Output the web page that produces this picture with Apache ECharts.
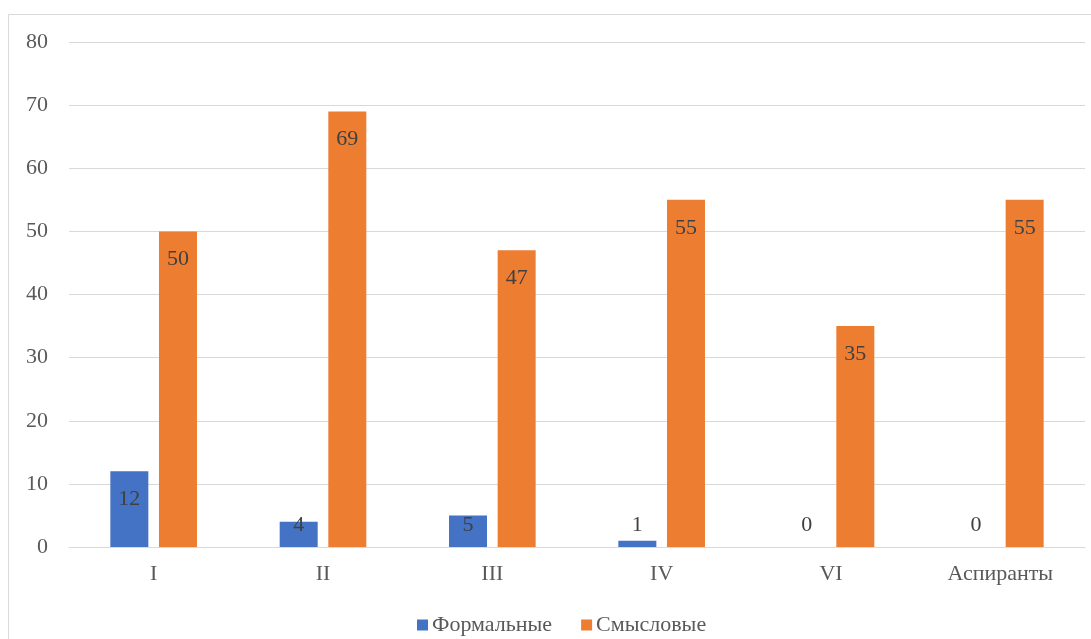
<!DOCTYPE html>
<html>
<head>
<meta charset="utf-8">
<script src="https://cdn.jsdelivr.net/npm/echarts@6/dist/echarts.min.js"></script>
<style>
  html, body { margin: 0; padding: 0; background: #fff; }
  #chart { width: 1091px; height: 639px; }
</style>
</head>
<body>
<div id="chart"></div>
<script>
// Categories (groups) and the two series
const categories = ['I', 'II', 'III', 'IV', 'VI', 'Аспиранты'];
const formalValues = [12, 4, 5, 1, 0, 0];
const semanticValues = [50, 69, 47, 55, 35, 55];
const seriesNames = ['Формальные', 'Смысловые'];
const yTicks = { min: 0, max: 80, interval: 10 };

const FONT = "'Liberation Serif', 'Times New Roman', serif";
const BLUE = '#4472C4';
const ORANGE = '#ED7D31';

// Labels sit inside the bar top; short bars get them just above the baseline
function withLabels(values) {
  return values.map(v => ({
    value: v,
    label: v < 8
      ? { position: 'insideBottom', distance: 11 }
      : { position: 'insideTop', distance: 17 }
  }));
}

const labelStyle = {
  show: true,
  color: '#404040',
  fontFamily: FONT,
  fontSize: 22
};

const chart = echarts.init(document.getElementById('chart'), null, { renderer: 'canvas' });
chart.setOption({
  backgroundColor: '#fff',
  animation: false,
  graphic: [{
    type: 'rect',
    shape: { x: 8.5, y: 14.5, width: 1200, height: 800 },
    style: { fill: 'none', stroke: '#d9d9d9', lineWidth: 1 },
    silent: true,
    z: -1
  }],
  grid: { left: 69, right: 6, top: 42, bottom: 92, containLabel: false },
  legend: {
    top: 609,
    left: 412,
    itemWidth: 11,
    itemHeight: 11,
    itemGap: 29,
    icon: 'rect',
    textStyle: { fontFamily: FONT, fontSize: 22, color: '#595959', padding: [0, 0, 0, -1] },
    data: seriesNames
  },
  xAxis: {
    type: 'category',
    data: categories,
    axisLine: { show: true, lineStyle: { color: '#d9d9d9', width: 1 } },
    axisTick: { show: false },
    axisLabel: { fontFamily: FONT, fontSize: 22, color: '#595959', margin: 16 }
  },
  yAxis: {
    type: 'value',
    min: yTicks.min,
    max: yTicks.max,
    interval: yTicks.interval,
    axisLine: { show: false },
    axisTick: { show: false },
    splitLine: { lineStyle: { color: '#d9d9d9', width: 1 } },
    axisLabel: { fontFamily: FONT, fontSize: 22, color: '#595959', margin: 21 }
  },
  series: [
    {
      name: seriesNames[0],
      type: 'bar',
      data: withLabels(formalValues),
      barWidth: 38,
      barGap: '28%',
      itemStyle: { color: BLUE },
      label: labelStyle
    },
    {
      name: seriesNames[1],
      type: 'bar',
      data: withLabels(semanticValues),
      barWidth: 38,
      barGap: '28%',
      itemStyle: { color: ORANGE },
      label: labelStyle
    }
  ]
});
</script>
</body>
</html>
